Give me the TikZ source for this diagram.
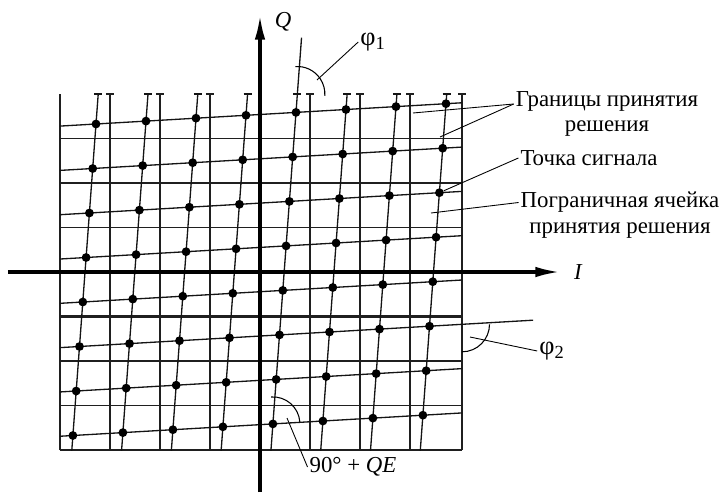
\documentclass[tikz,border=0pt]{standalone}
\usepackage{fontspec}
\setmainfont{Liberation Serif}
\usepackage{tikz}
\usetikzlibrary{calc, positioning, arrows.meta}
\usepackage{xcolor}
\definecolor{inkGrid}{gray}{0.12}
\definecolor{inkLine}{gray}{0.08}

\begin{document}
\begin{tikzpicture}[
    bound/.style={line width=0.7pt, inkGrid},
    boundthick/.style={line width=1.4pt, inkGrid},
    constel/.style={line width=0.75pt, inkLine},
    axisline/.style={line width=1.8pt, -{Latex[length=14pt, width=6pt]}},
    sigdot/.style={circle, fill=black, inner sep=0pt, minimum size=5pt},
    lbl/.style={font=\fontsize{13}{14.5}\selectfont, align=center, inner sep=1pt},
    greek/.style={font=\fontsize{15}{16}\selectfont, inner sep=1pt},
    leader/.style={line width=0.5pt},
    anglearc/.style={line width=0.6pt}
  ]
  \useasboundingbox (-5.2,-4.4) rectangle (9.18,5.44);

  % --- signal points of the tilted constellation ---
  \foreach \i in {0,...,7}
    \foreach \j in {0,...,7}
      \coordinate (p\i\j) at ({-3.28+\i-0.066*\j}, {2.96-0.89*\j+0.058*\i});

  % --- decision boundaries ---
  \foreach \k in {-4,-3,-2,1,2,3}
    \draw[bound] (-4,0.89*\k) -- (4.04,0.89*\k);
  \draw[boundthick] (-4,-0.89) -- (4.04,-0.89);
  \foreach \x in {-2,-1,3,4.04}
    \draw[bound] (\x,-3.56) -- (\x,3.56);
  \foreach \x in {-4,-3,1,2}
    \draw[boundthick] (\x,-3.56) -- (\x,3.56);
  \foreach \x in {-3,-2,-1,1,2,3,4.04}
    \draw[bound] (\x-0.08,3.56) -- (\x+0.08,3.56);

  % --- rows and columns through the points, cut at the grid ---
  \begin{scope}
    \clip (-4,-3.56) rectangle (4.04,3.56);
    \foreach \j in {0,...,7}
      \draw[constel] ($(p0\j)!-0.2!(p7\j)$) -- ($(p0\j)!1.2!(p7\j)$);
    \foreach \i in {0,...,7}
      \draw[constel] ($(p\i0)!-0.2!(p\i7)$) -- ($(p\i0)!1.2!(p\i7)$);
  \end{scope}
  \foreach \i in {0,...,7} {
    \coordinate (t\i) at ({-3.28+\i+0.066*(0.6-0.058*\i)/0.89}, 3.56);
    \draw[constel] ([xshift=-0.08cm]t\i) -- ([xshift=0.08cm]t\i);
  }
  % lines carried out for the angles
  \coordinate (r5edge) at ($(p05)!1.0929!(p75)$);
  \coordinate (r5out) at ($(p05)!1.296!(p75)$);
  \coordinate (c4up) at ($(p47)!1.24!(p40)$);
  \draw[constel] (r5edge) -- (r5out);
  \draw[constel] (t4) -- (c4up);

  % --- axes ---
  \coordinate (qfoot) at (0,-4.4);
  \coordinate (qtip) at (0,5.14);
  \coordinate (ifoot) at (-5.04,0);
  \coordinate (itip) at (6.0,0);
  \draw[axisline] (qfoot) -- (qtip);
  \draw[axisline] (ifoot) -- (itip);

  \foreach \i in {0,...,7}
    \foreach \j in {0,...,7}
      \node[sigdot] (s\i\j) at (p\i\j) {};

  % --- labels ---
  \node[lbl, font=\fontsize{13}{14}\selectfont\itshape] (qname) at (0.46,5.0) {Q};
  \node[lbl, font=\fontsize{13}{14}\selectfont\itshape] (iname) at (6.36,0) {I};
  \node[lbl] (gran) at (6.94,3.16) {Границы принятия\\решения};
  \node[lbl] (tochka) at (6.58,2.28) {Точка сигнала};
  \node[lbl] (pogr) at (7.2,1.14) {Пограничная ячейка\\принятия решения};
  \node[greek] (phione) at (2.26,4.6) {φ\textsubscript{1}};
  \node[greek] (phitwo) at (5.84,-1.58) {φ\textsubscript{2}};
  \node[lbl] (qerr) at (1.86,-3.9) {90° + \textit{QE}};

  % --- leaders ---
  \coordinate (bndV) at (3.06,3.18);
  \coordinate (bndH) at (3.6,2.7);
  \coordinate (cellmark) at (3.42,1.18);
  \coordinate (phiOneEnd) at (1.14,3.84);
  \coordinate (phiTwoEnd) at (4.2,-1.3);
  \coordinate (qeEnd) at (0.54,-2.92);
  \draw[leader] ([yshift=0.2cm]gran.west) -- (bndV);
  \draw[leader] ([yshift=0.2cm]gran.west) -- (bndH);
  \draw[leader] (tochka.west) -- (s72);
  \draw[leader] ([yshift=0.25cm]pogr.west) -- (cellmark);
  \draw[leader] (phione.west) -- (phiOneEnd);
  \draw[leader] (phitwo.west) -- (phiTwoEnd);
  \draw[leader] (qerr.west) -- (qeEnd);

  % --- angle arcs ---
  \draw[anglearc] (t4) ++(94:0.55) arc[start angle=94, end angle=-4, radius=0.55];
  \draw[anglearc] (r5edge) ++(0:0.55) arc[start angle=0, end angle=-90, radius=0.55];
  \draw[anglearc] (p47) ++(94:0.54) arc[start angle=94, end angle=4, radius=0.54];
\end{tikzpicture}
\end{document}
